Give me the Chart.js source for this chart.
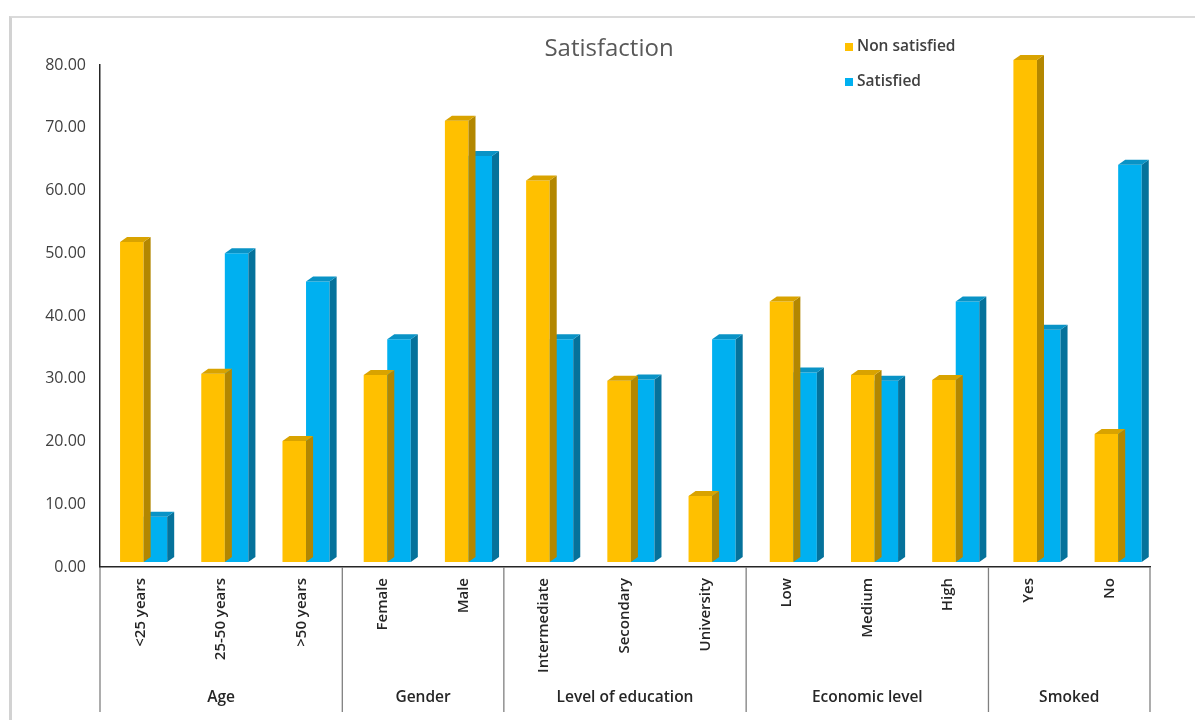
<!DOCTYPE html>
<html>
<head>
<meta charset="utf-8">
<script src="https://cdn.jsdelivr.net/npm/chart.js@4.4.0/dist/chart.umd.min.js"></script>
<style>
  body { margin: 0; background: #fff; }
  #frame { position: absolute; left: 9px; top: 16px; width: 1200px; height: 720px;
           border-left: 3px solid #d2d2d2; border-top: 2px solid #dadada; }
  #wrap { position: absolute; left: 0; top: 0; width: 1195px; height: 720px; }
</style>
</head>
<body>
<div id="frame"></div>
<div id="wrap"><canvas id="myChart"></canvas></div>
<script>
// Dados do gráfico
const categories = ['<25 years', '25-50 years', '>50 years', 'Female', 'Male',
                    'Intermediate', 'Secondary', 'University', 'Low', 'Medium', 'High', 'Yes', 'No'];
const groupNames = ['Age', 'Gender', 'Level of education', 'Economic level', 'Smoked'];
const groupSizes = [3, 2, 3, 3, 2];
const nonSatisfied = [51.0, 30.0, 19.3, 29.8, 70.3, 60.8, 28.9, 10.5, 41.5, 29.8, 29.0, 80.0, 20.4];
const satisfied    = [7.2, 49.2, 44.7, 35.5, 64.7, 35.5, 29.1, 35.5, 30.2, 28.9, 41.5, 37.0, 63.3];
const seriesNames = ['Non satisfied', 'Satisfied'];
const yMax = 80;
const yStep = 10;

const frontColors = ['#FFC000', '#00B0F0'];
const sideColors = ['#B38700', '#05729B'];
const topColors = ['#D9A300', '#0993C6'];
const depthX = 7, depthY = 5;

// efeito 3D: desloca as barras e desenha lados e topos
const bars3d = {
  id: 'bars3d',
  beforeDatasetsDraw(chart) {
    const ctx = chart.ctx;
    const left = chart.chartArea.left;
    ctx.save();
    ctx.translate(left + 3, -5);
    ctx.scale(1.0055, 1);
    ctx.translate(-left, 0);
  },
  afterDatasetDraw(chart, args) {
    const ctx = chart.ctx;
    const i = args.index;
    args.meta.data.forEach(el => {
      const p = el.getProps(['x', 'y', 'base', 'width'], true);
      const l = p.x - p.width / 2, r = p.x + p.width / 2;
      ctx.fillStyle = sideColors[i];
      ctx.beginPath();
      ctx.moveTo(r, p.y);
      ctx.lineTo(r + depthX, p.y - depthY);
      ctx.lineTo(r + depthX, p.base - depthY);
      ctx.lineTo(r, p.base);
      ctx.closePath();
      ctx.fill();
      ctx.fillStyle = topColors[i];
      ctx.beginPath();
      ctx.moveTo(l, p.y);
      ctx.lineTo(l + depthX, p.y - depthY);
      ctx.lineTo(r + depthX, p.y - depthY);
      ctx.lineTo(r, p.y);
      ctx.closePath();
      ctx.fill();
    });
  },
  afterDatasetsDraw(chart) {
    chart.ctx.restore();
  }
};

// grupos do eixo x, título e legenda
const extras = {
  id: 'extras',
  afterDraw(chart) {
    const ctx = chart.ctx;
    const xs = chart.scales.x;
    const area = chart.chartArea;
    const step = xs.getPixelForValue(1) - xs.getPixelForValue(0);
    ctx.save();
    ctx.strokeStyle = '#808080';
    ctx.lineWidth = 1.3;
    let idx = 0;
    const bounds = [xs.getPixelForValue(0) - step / 2];
    groupSizes.forEach(n => { idx += n; bounds.push(xs.getPixelForValue(idx - 1) + step / 2); });
    bounds.forEach(bx => {
      ctx.beginPath();
      ctx.moveTo(bx, area.bottom);
      ctx.lineTo(bx, 712);
      ctx.stroke();
    });
    ctx.fillStyle = '#262626';
    ctx.font = '600 15.5px "Open Sans"';
    ctx.textAlign = 'center';
    ctx.textBaseline = 'middle';
    groupNames.forEach((g, k) => ctx.fillText(g, (bounds[k] + bounds[k + 1]) / 2, 698));

    // título
    ctx.fillStyle = '#595959';
    ctx.font = '24px "Open Sans"';
    ctx.fillText('Satisfaction', 609, 49);

    // legenda
    ctx.textAlign = 'left';
    ctx.font = '600 15.5px "Open Sans"';
    seriesNames.forEach((s, k) => {
      const ly = 47 + k * 35;
      ctx.fillStyle = frontColors[k];
      ctx.fillRect(845, ly - 4, 8, 8);
      ctx.fillStyle = '#404040';
      ctx.fillText(s, 857, ly);
    });
    ctx.restore();
  }
};

const config = {
  type: 'bar',
  data: {
    labels: categories,
    datasets: [
      { label: seriesNames[0], data: nonSatisfied, backgroundColor: frontColors[0],
        categoryPercentage: 0.58, barPercentage: 1.0, clip: false },
      { label: seriesNames[1], data: satisfied, backgroundColor: frontColors[1],
        categoryPercentage: 0.58, barPercentage: 1.0, clip: false }
    ]
  },
  options: {
    responsive: true,
    maintainAspectRatio: false,
    animation: false,
    layout: { padding: { left: 0, right: 45, top: 65, bottom: 3 } },
    plugins: {
      legend: { display: false },
      tooltip: { enabled: false }
    },
    scales: {
      x: {
        grid: { display: false, drawTicks: false },
        border: { color: '#262626', width: 1.5 },
        ticks: {
          maxRotation: 90,
          minRotation: 90,
          padding: 11,
          color: '#262626',
          font: { family: 'Open Sans', size: 15, weight: '600' }
        },
        afterFit(scale) { scale.height = 150; }
      },
      y: {
        min: 0,
        max: yMax,
        grid: { display: false, drawTicks: false },
        border: { color: '#262626', width: 1.5 },
        ticks: {
          stepSize: yStep,
          padding: 14,
          color: '#404040',
          font: { family: 'Open Sans', size: 16 },
          callback: v => v.toFixed(2)
        },
        afterFit(scale) { scale.width = 100; }
      }
    }
  },
  plugins: [bars3d, extras]
};

const ctx = document.getElementById('myChart');
const myChart = new Chart(ctx, config);
</script>
</body>
</html>
